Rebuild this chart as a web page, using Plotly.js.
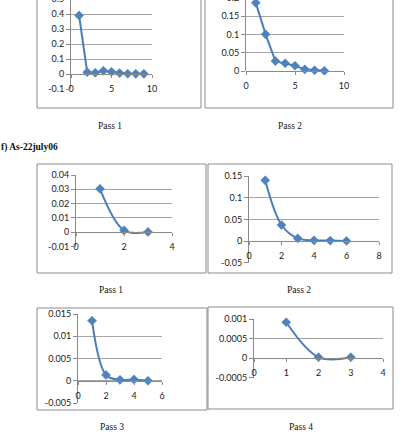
<!DOCTYPE html>
<html>
<head>
<meta charset="utf-8">
<script src="https://cdn.plot.ly/plotly-3.0.1.min.js"></script>
<style>
  html, body { margin: 0; padding: 0; background: #fff; overflow: hidden; }
  #chart { position: absolute; left: 0; top: -20px; width: 400px; height: 455px; }
</style>
</head>
<body>
<div id="chart"></div>
<script>
// ---- data: concentration per step for each pass ----
const stepsA = [1, 2, 3, 4, 5, 6, 7, 8, 9];
const valuesA = [0.39, 0.012, 0.008, 0.022, 0.015, 0.006, 0.002, 0.001, 0.001];

const stepsB = [1, 2, 3, 4, 5, 6, 7, 8];
const valuesB = [0.186, 0.1, 0.027, 0.021, 0.0145, 0.0045, 0.002, 0.0005];

const stepsC = [1, 2, 3];
const valuesC = [0.0303, 0.0013, 0.0002];

const stepsD = [1, 2, 3, 4, 5, 6];
const valuesD = [0.14, 0.037, 0.006, 0.0016, 0.001, 0.0002];

const stepsE = [1, 2, 3, 4, 5];
const valuesE = [0.0135, 0.0013, 0.0002, 0.0003, 0.0];

const stepsF = [1, 2, 3];
const valuesF = [0.000915, 0.00002, 0.00002];

// ---- axis ticks ----
const yTicksA = [-0.1, 0, 0.1, 0.2, 0.3, 0.4, 0.5];
const yTextA = ['-0.1', '0', '0.1', '0.2', '0.3', '0.4', '0.5'];
const xTicksA = [0, 5, 10];

const yTicksB = [0, 0.05, 0.1, 0.15, 0.2];
const yTextB = ['0', '0.05', '0.1', '0.15', '0.2'];
const xTicksB = [0, 5, 10];

const yTicksC = [-0.01, 0, 0.01, 0.02, 0.03, 0.04];
const yTextC = ['-0.01', '0', '0.01', '0.02', '0.03', '0.04'];
const xTicksC = [0, 2, 4];

const yTicksD = [-0.05, 0, 0.05, 0.1, 0.15];
const yTextD = ['-0.05', '0', '0.05', '0.1', '0.15'];
const xTicksD = [0, 2, 4, 6, 8];

const yTicksE = [-0.005, 0, 0.005, 0.01, 0.015];
const yTextE = ['-0.005', '0', '0.005', '0.01', '0.015'];
const xTicksE = [0, 2, 4, 6];

const yTicksF = [-0.0005, 0, 0.0005, 0.001];
const yTextF = ['-0.0005', '0', '0.0005', '0.001'];
const xTicksF = [0, 1, 2, 3, 4];

const passLabels = ['Pass 1', 'Pass 2', 'Pass 3', 'Pass 4'];
const sectionTitle = 'f) As-22july06';

// ---- page geometry (pixels -> paper fractions) ----
const FIG_W = 400, FIG_H = 455, OFFSET = 20;
const fx = px => px / FIG_W;
const fy = py => 1 - (py + OFFSET) / FIG_H;

const BLUE_LINE = '#4A7EBB';
const BLUE_MARK = '#4F81BD';
const GRID = '#a6a6a6';
const AXIS = '#8a8a8a';
const TICK_FONT = { family: 'Lato, "Open Sans", sans-serif', size: 9, color: '#1a1a1a' };

// plot-area boxes: left/right/top/bottom in pixels, with value ranges
const panels = [
  { x: stepsA, y: valuesA, left: 71, right: 152, top: -1, bottom: 89, xr: [0, 10], yr: [-0.1, 0.5],
    yt: yTicksA, ytt: yTextA, xt: xTicksA, shape: 'linear' },
  { x: stepsB, y: valuesB, left: 246, right: 344, top: -2.3, bottom: 71, xr: [0, 10], yr: [0, 0.2],
    yt: yTicksB, ytt: yTextB, xt: xTicksB, shape: 'linear' },
  { x: stepsC, y: valuesC, left: 76, right: 172, top: 175, bottom: 246.5, xr: [0, 4], yr: [-0.01, 0.04],
    yt: yTicksC, ytt: yTextC, xt: xTicksC, shape: 'spline' },
  { x: stepsD, y: valuesD, left: 249, right: 379, top: 176, bottom: 262.7, xr: [0, 8], yr: [-0.05, 0.15],
    yt: yTicksD, ytt: yTextD, xt: xTicksD, shape: 'spline' },
  { x: stepsE, y: valuesE, left: 78, right: 162, top: 314, bottom: 403, xr: [0, 6], yr: [-0.005, 0.015],
    yt: yTicksE, ytt: yTextE, xt: xTicksE, shape: 'spline' },
  { x: stepsF, y: valuesF, left: 254, right: 383, top: 319, bottom: 377.5, xr: [0, 4], yr: [-0.0005, 0.001],
    yt: yTicksF, ytt: yTextF, xt: xTicksF, shape: 'spline' }
];

const traces = [];
const layout = {
  width: FIG_W, height: FIG_H,
  margin: { l: 0, r: 0, t: 0, b: 0 },
  paper_bgcolor: '#ffffff',
  plot_bgcolor: 'rgba(0,0,0,0)',
  showlegend: false,
  shapes: [],
  annotations: []
};

panels.forEach((p, i) => {
  const n = i + 1;
  const xa = 'xaxis' + (n === 1 ? '' : n);
  const ya = 'yaxis' + (n === 1 ? '' : n);
  const yd = [fy(p.bottom), fy(p.top)];
  const zeroFrac = (0 - p.yr[0]) / (p.yr[1] - p.yr[0]);

  traces.push({
    type: 'scatter', mode: 'lines+markers',
    x: p.x, y: p.y,
    xaxis: 'x' + (n === 1 ? '' : n), yaxis: 'y' + (n === 1 ? '' : n),
    line: { color: BLUE_LINE, width: 2, shape: p.shape, smoothing: 1 },
    marker: { symbol: 'diamond', size: 7, color: BLUE_MARK, line: { color: BLUE_MARK, width: 0.5 } },
    cliponaxis: false, hoverinfo: 'skip'
  });

  layout[xa] = {
    domain: [fx(p.left), fx(p.right)],
    range: p.xr,
    anchor: 'free',
    position: yd[0] + zeroFrac * (yd[1] - yd[0]),
    tickvals: p.xt,
    ticks: 'outside', ticklen: 3, tickcolor: AXIS, tickwidth: 1,
    ticklabelstandoff: 3,
    showline: true, linecolor: AXIS, linewidth: 1,
    showgrid: false, zeroline: false,
    tickfont: TICK_FONT, fixedrange: true
  };

  layout[ya] = {
    domain: yd,
    range: p.yr,
    anchor: 'x' + (n === 1 ? '' : n),
    tickvals: p.yt, ticktext: p.ytt,
    ticks: 'outside', ticklen: 4, tickcolor: AXIS, tickwidth: 1,
    showline: true, linecolor: AXIS, linewidth: 1,
    showgrid: true, gridcolor: GRID, gridwidth: 1,
    zeroline: false,
    tickfont: TICK_FONT, fixedrange: true
  };
});

// chart frames
const frames = [
  [37, 201, -40, 108], [205, 393, -40, 108],
  [37, 206, 164, 273], [208, 392, 164, 273],
  [37, 207, 308, 410], [208, 393, 307, 409]
];
frames.forEach(f => {
  layout.shapes.push({
    type: 'rect', xref: 'paper', yref: 'paper', layer: 'below',
    x0: fx(f[0]), x1: fx(f[1]), y0: fy(f[3]), y1: fy(f[2]),
    line: { color: '#8c8c8c', width: 1 }, fillcolor: 'rgba(0,0,0,0)'
  });
});

// captions under each chart
const CAPTION_FONT = { family: '"Liberation Serif", "Times New Roman", serif', size: 9.5, color: '#111' };
const captions = [
  [110, 126, passLabels[0]], [290, 126, passLabels[1]],
  [111, 290, passLabels[0]], [299, 290, passLabels[1]],
  [112, 427, passLabels[2]], [301, 427, passLabels[3]]
];
captions.forEach(c => {
  layout.annotations.push({
    xref: 'paper', yref: 'paper', x: fx(c[0]), y: fy(c[1]),
    xanchor: 'center', yanchor: 'middle', showarrow: false,
    text: c[2], font: CAPTION_FONT
  });
});

layout.annotations.push({
  xref: 'paper', yref: 'paper', x: fx(-1), y: fy(147),
  xanchor: 'left', yanchor: 'middle', showarrow: false,
  text: '<b>' + sectionTitle + '</b>',
  font: { family: '"Liberation Serif", "Times New Roman", serif', size: 9.5, color: '#111' }
});

Plotly.newPlot('chart', traces, layout, { staticPlot: true, displayModeBar: false });
</script>
</body>
</html>
